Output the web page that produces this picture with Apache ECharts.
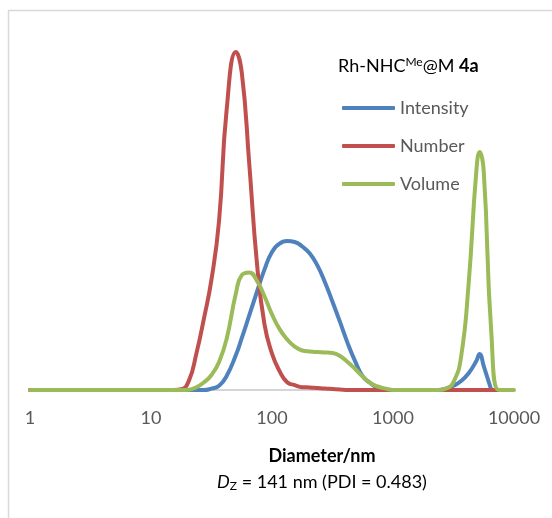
<!DOCTYPE html>
<html>
<head>
<meta charset="utf-8">
<script src="https://cdn.jsdelivr.net/npm/echarts@6/dist/echarts.min.js"></script>
<style>
  html, body { margin: 0; padding: 0; background: #fff; }
  #main { width: 552px; height: 518px; }
</style>
</head>
<body>
<div id="main"></div>
<script>
// size distribution (diameter in nm, values in %)
var diameters = [1, 10, 13.34, 15.4, 17.78, 20.54, 23.71, 27.38, 31.62, 36.52,
    42.17, 50.3, 56.23, 64.94, 74.99, 86.6, 100, 115.5, 133.4, 154,
    177.8, 205.4, 237.1, 273.8, 316.2, 365.2, 421.7, 487, 562.3, 649.4,
    749.9, 866, 1000, 1155, 1334, 1540, 1778, 2054, 2371, 2738,
    3162, 3652, 4217, 4870, 5200, 5623, 6494, 7499, 8660, 10000];

var intensity = [0, 0, 0, 0, 0, 0, 0, 0, 0.1, 0.3,
    1.0, 2.5, 3.7, 5.35, 7.0, 8.6, 9.85, 10.45, 10.64, 10.57,
    10.25, 9.75, 8.9, 7.7, 6.3, 4.85, 3.35, 2.05, 0.98, 0.5,
    0.15, 0.04, 0, 0, 0, 0, 0, 0, 0, 0.1,
    0.3, 0.64, 1.2, 2.05, 2.57, 1.7, 0, null, null, null];

var number = [0, 0, 0, 0, 0.05, 0.65, 2.6, 5.1, 7.9, 12.1,
    20.0, 24.15, 22.7, 16.1, 9.1, 4.7, 2.6, 1.35, 0.55, 0.35,
    0.2, 0.18, 0.14, 0.1, 0.07, 0.04, 0, 0, 0, 0,
    0, 0, 0, 0, 0, 0, 0, 0, 0, 0,
    0, 0, 0, 0, 0, 0, 0, 0, null, null];

var volume = [0, 0, 0, 0, 0, 0.02, 0.2, 0.55, 1.07, 2.0,
    3.65, 6.9, 8.2, 8.4, 7.8, 6.7, 5.4, 4.35, 3.62, 3.1,
    2.82, 2.75, 2.71, 2.68, 2.64, 2.43, 2.0, 1.5, 0.96, 0.5,
    0.25, 0.1, 0, 0, 0, 0, 0, 0, 0, 0.1,
    0.57, 2.36, 7.6, 15.5, 17.0, 15.6, 4.1, 0, 0, 0];

var seriesNames = ['Intensity', 'Number', 'Volume'];
var seriesColors = ['#4f81bd', '#c0504d', '#9bbb59'];
var xTicks = [1, 10, 100, 1000, 10000];

function pairs(values) {
    return diameters.map(function (d, i) { return [d, values[i]]; });
}

var dom = document.getElementById('main');
var myChart = echarts.init(dom, null, { renderer: 'canvas' });
var font = 'Lato';

var option = {
    animation: false,
    backgroundColor: '#fff',
    textStyle: { fontFamily: font },
    grid: { left: 30, right: 38, top: 40, bottom: 128 },
    xAxis: {
        type: 'log',
        logBase: 10,
        min: xTicks[0],
        max: xTicks[xTicks.length - 1],
        axisLine: { show: true, lineStyle: { color: '#c8c8c8', width: 1.5 } },
        axisTick: { show: false },
        splitLine: { show: false },
        axisLabel: {
            color: '#595959', fontSize: 18, fontFamily: font, margin: 19,
            formatter: function (v) { return String(v); }
        }
    },
    yAxis: {
        type: 'value', min: 0, max: 25, show: false
    },
    legend: {
        orient: 'vertical',
        left: 337,
        top: 93,
        itemWidth: 53,
        itemHeight: 4,
        itemGap: 18,
        icon: 'roundRect',
        data: seriesNames,
        textStyle: { color: '#595959', fontSize: 18, fontFamily: font, lineHeight: 20 }
    },
    graphic: [
        {
            type: 'rect', silent: true,
            shape: { x: 8.5, y: 10.5, width: 700, height: 700 },
            style: { fill: 'none', stroke: '#d9d9d9', lineWidth: 1.5 }
        },
        {
            type: 'text', left: 338, top: 56,
            style: {
                text: '{a|Rh-NHC}{s|Me}{a|@M }{b|4a}',
                rich: {
                    a: { fontSize: 18, fontFamily: font, fill: '#000' },
                    s: { fontSize: 12, fontFamily: font, fill: '#000', padding: [0, 0, 8, 0] },
                    b: { fontSize: 18, fontFamily: font, fill: '#000', fontWeight: 'bold' }
                }
            }
        },
        {
            type: 'text', x: 322, y: 456,
            style: {
                text: 'Diameter/nm', fontSize: 18, fontFamily: font, fontWeight: 'bold',
                fill: '#000', align: 'center', verticalAlign: 'middle'
            }
        },
        {
            type: 'text', x: 322, y: 482,
            style: {
                text: '{i|D}{z|Z}{a| = 141 nm (PDI = 0.483)}',
                align: 'center', verticalAlign: 'middle',
                rich: {
                    i: { fontSize: 18, fontFamily: font, fontStyle: 'italic', fill: '#000' },
                    z: { fontSize: 12, fontFamily: font, fill: '#000', padding: [8, 0, 0, 0] },
                    a: { fontSize: 18, fontFamily: font, fill: '#000' }
                }
            }
        }
    ],
    series: seriesNames.map(function (name, k) {
        return {
            name: name,
            type: 'line',
            smooth: true,
            symbol: 'none',
            connectNulls: false,
            color: seriesColors[k],
            lineStyle: { width: 4, color: seriesColors[k], cap: 'round', join: 'round' },
            data: pairs([intensity, number, volume][k])
        };
    })
};

if (option && typeof option === "object") {
    myChart.setOption(option, true);
}
</script>
</body>
</html>
